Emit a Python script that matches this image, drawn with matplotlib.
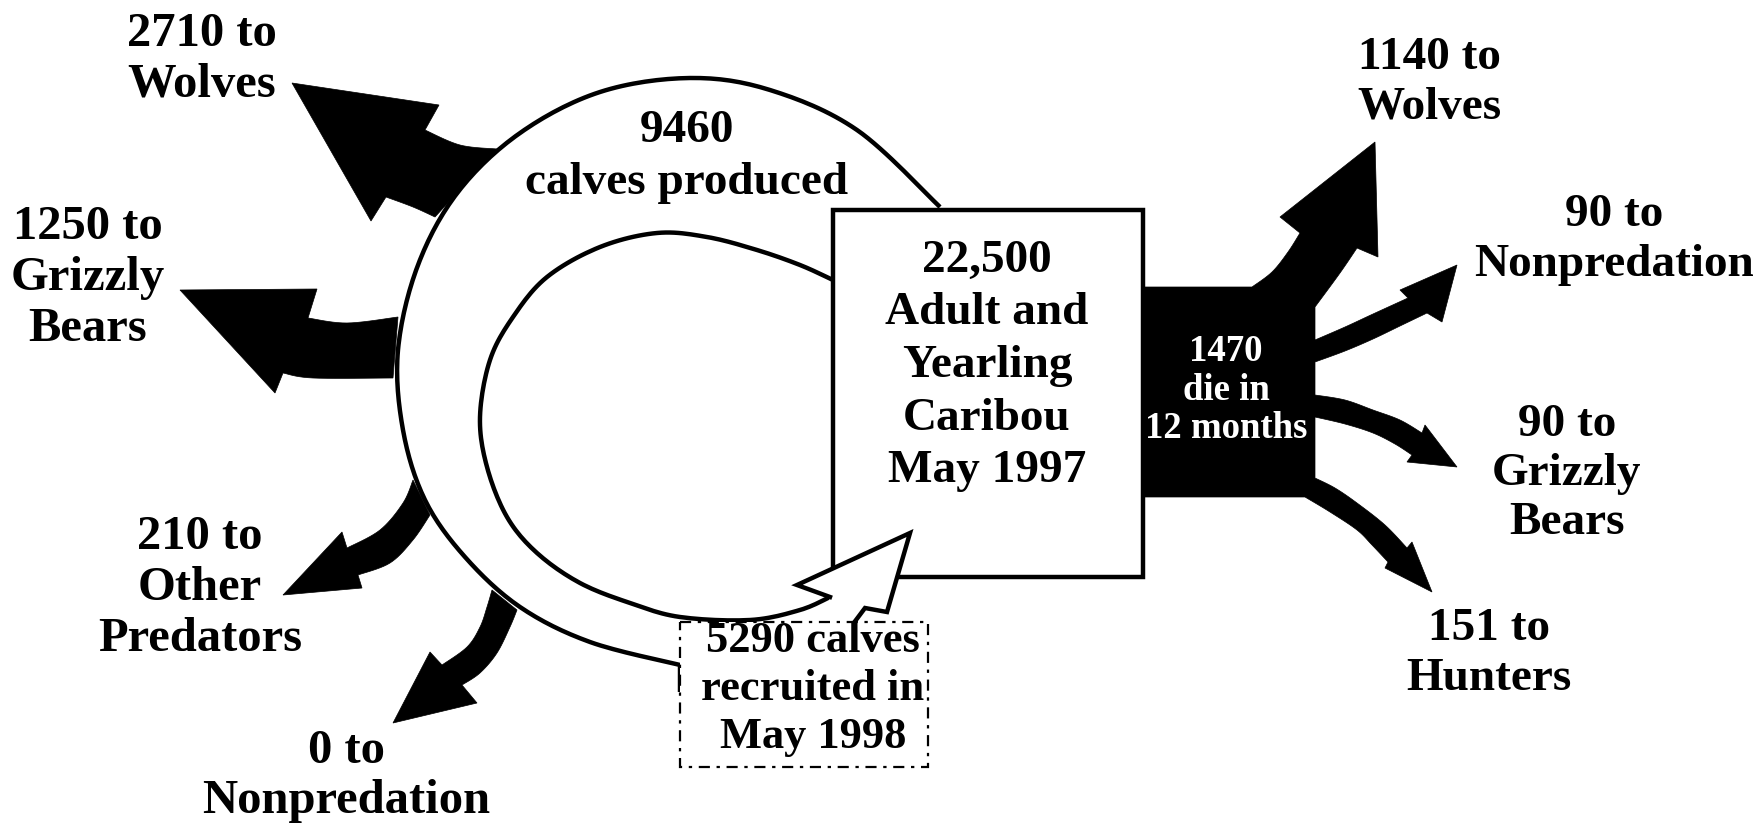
import numpy as np
import matplotlib
matplotlib.use("Agg")
import matplotlib.pyplot as plt
from matplotlib.patches import Polygon, Rectangle

# caribou numbers (May 1997 -> May 1998)
adults = 22500
adults_died = 1470
calves_produced = 9460
calves_recruited = 5290

calf_fates = ["Wolves", "Grizzly\nBears", "Other\nPredators", "Nonpredation"]
calf_losses = [2710, 1250, 210, 0]

adult_fates = ["Wolves", "Nonpredation", "Grizzly\nBears", "Hunters"]
adult_losses = [1140, 90, 90, 151]

# ---- layout (pixel coords, y down) ----
W, H = 1761, 825
FONT = "Liberation Serif"

outer_ring = [(940, 207), (857, 130), (770, 90), (690, 78), (600, 92), (520, 133),
              (458, 192), (418, 265), (398, 350), (403, 430), (425, 500), (465, 557),
              (520, 607), (590, 642), (680, 665)]
inner_ring = [(833, 280), (800, 265), (757, 250), (707, 237), (657, 233), (600, 247),
              (547, 277), (513, 317), (490, 360), (480, 417), (487, 467), (507, 517),
              (537, 553), (580, 583), (630, 603), (680, 617), (750, 620), (800, 610),
              (830, 597)]
# open arrow head back into the adult box
recruit_head = [(830, 597), (797, 585), (910, 533), (887, 612), (865, 608), (853, 624)]

# left arrows: upper edge, head (barb, tip, barb), lower edge
calf_arrows = [
    ([(497, 149), (460, 145), (425, 130)], [(439, 105), (292, 83), (371, 221)],
     [(386, 197), (413, 207), (435, 217)]),
    ([(398, 317), (347, 323), (308, 318)], [(317, 289), (180, 290), (275, 393)],
     [(283, 373), (313, 378), (393, 378)]),
    ([(413, 480), (403, 503), (380, 530), (347, 548)], [(342, 532), (283, 595), (362, 588)],
     [(358, 575), (390, 563), (413, 540), (430, 515)]),
    ([(492, 590), (487, 607), (480, 627), (467, 647), (442, 665)],
     [(430, 652), (393, 723), (477, 703)],
     [(462, 685), (480, 673), (497, 653), (510, 627), (517, 610)]),
]
calf_label_xy = [(202, 59), (88, 278), (200, 588), (346, 776)]

# right side: black mortality block and its arrows
die_block = (1143, 287, 1315, 497)
adult_arrows = [
    ([(1252, 287), (1272, 272), (1288, 252), (1300, 233)], [(1280, 217), (1375, 142), (1378, 257)],
     [(1357, 248), (1340, 273), (1315, 307)]),
    ([(1315, 340), (1345, 327), (1373, 314), (1408, 298)], [(1400, 290), (1457, 265), (1442, 322)],
     [(1427, 313), (1400, 326), (1373, 339), (1345, 351), (1315, 362)]),
    ([(1315, 395), (1345, 400), (1373, 410), (1400, 420), (1422, 433)], [(1425, 425), (1457, 467), (1407, 462)],
     [(1412, 455), (1395, 444), (1373, 433), (1345, 424), (1315, 417)]),
    ([(1315, 478), (1335, 488), (1357, 503), (1385, 525), (1407, 548)], [(1412, 542), (1432, 592), (1385, 568)],
     [(1388, 562), (1372, 545), (1357, 530), (1330, 512), (1305, 497)]),
]
adult_label_xy = [(1429, 83), (1614, 240), (1567, 474), (1489, 654)]

box = (833, 210, 1143, 577)
recruit_box = (680, 622, 928, 767)


def smooth(pts, n=10):
    # catmull-rom through the given points
    p = np.asarray(pts, float)
    if len(p) < 3:
        return p
    p = np.vstack([p[0], p, p[-1]])
    out = []
    t = np.linspace(0, 1, n, endpoint=False)[:, None]
    for i in range(1, len(p) - 2):
        p0, p1, p2, p3 = p[i - 1], p[i], p[i + 1], p[i + 2]
        out.append(0.5 * (2 * p1 + (-p0 + p2) * t + (2 * p0 - 5 * p1 + 4 * p2 - p3) * t ** 2
                          + (-p0 + 3 * p1 - 3 * p2 + p3) * t ** 3))
    out.append(p[-2][None])
    return np.vstack(out)


def arrow_pts(arrow):
    up, head, low = arrow
    return np.vstack([smooth(up), np.asarray(head, float), smooth(low)])


fig = plt.figure(figsize=(W / 100, H / 100), dpi=100)
ax = fig.add_axes([0, 0, 1, 1])
ax.set_xlim(0, W)
ax.set_ylim(H, 0)
ax.axis("off")

LW = 3.2

# black calf-loss arrows sit under the ring
for arr in calf_arrows:
    ax.add_patch(Polygon(arrow_pts(arr), closed=True, fc="black", ec="black", lw=0.5, zorder=1))

outer = smooth(outer_ring, 16)
inner = smooth(inner_ring, 12)
band = np.vstack([outer, [(853, 624)], [(865, 608)], inner[::-1]])
ax.add_patch(Polygon(band, closed=True, fc="white", ec="none", zorder=2))
ax.plot(np.r_[outer[:, 0], 680], np.r_[outer[:, 1], 692], color="black", lw=LW, zorder=3,
        solid_capstyle="butt")
ax.plot(inner[:, 0], inner[:, 1], color="black", lw=LW, zorder=3, solid_joinstyle="round")

# adult box
x0, y0, x1, y1 = box
ax.add_patch(Rectangle((x0, y0), x1 - x0, y1 - y0, fc="white", ec="black", lw=LW, zorder=4))

# black mortality block with its arrows
bx0, by0, bx1, by1 = die_block
block = [np.array([(bx0, by0)], float)]
for arr in adult_arrows:
    block.append(arrow_pts(arr))
block.append(np.array([(bx0, by1)], float))
ax.add_patch(Polygon(np.vstack(block), closed=True, fc="black", ec="black", lw=0.5, zorder=4))

# open arrow head for recruited calves, drawn over the box corner
head = np.asarray(recruit_head, float)
ax.add_patch(Polygon(np.vstack([head, [(820, 640)]]), closed=True, fc="white", ec="none", zorder=5))
ax.plot(head[:, 0], head[:, 1], color="black", lw=LW, zorder=6, solid_joinstyle="miter")

# dotted recruitment box
rx0, ry0, rx1, ry1 = recruit_box
ax.add_patch(Rectangle((rx0, ry0), rx1 - rx0, ry1 - ry0, fc="white", ec="black", lw=1.6,
                       ls=(0, (5, 3, 1.5, 3)), zorder=7))

txt = dict(family=FONT, weight="bold", ha="center", va="center", zorder=8)

ax.text(987, 366, f"{adults:,}\nAdult and\nYearling\nCaribou\nMay 1997", fontsize=34,
        linespacing=1.33, **txt)
ax.text(687, 157, f"{calves_produced}\ncalves produced", fontsize=34, linespacing=1.34, **txt)
ax.text(813, 689, f"{calves_recruited} calves\nrecruited in\nMay 1998", fontsize=32,
        linespacing=1.26, **txt)
ax.text(1226, 390, f"{adults_died}\ndie in\n12 months", fontsize=26.5, linespacing=1.12,
        color="white", **txt)

for n, fate, (x, y) in zip(calf_losses, calf_fates, calf_label_xy):
    ax.text(x, y, f"{n} to\n{fate}", fontsize=35, linespacing=1.2, **txt)

for n, fate, (x, y) in zip(adult_losses, adult_fates, adult_label_xy):
    ax.text(x, y, f"{n} to\n{fate}", fontsize=34, linespacing=1.22, **txt)

fig.savefig("out.png", dpi=100, facecolor="white")
